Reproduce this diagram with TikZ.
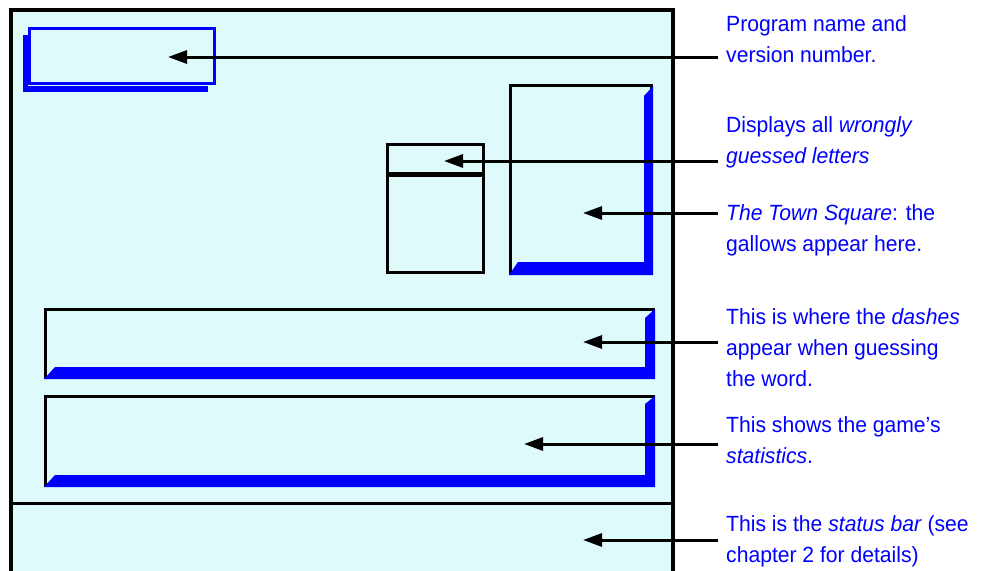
\documentclass[tikz,border=0pt]{standalone}
\usepackage{fontspec}
\newfontfamily\notefont{Liberation Sans}[FakeStretch=0.96]
\usepackage{tikz}
\usetikzlibrary{arrows.meta,positioning}

\definecolor{screen}{RGB}{222,250,250}
\definecolor{winblue}{RGB}{0,0,255}

\begin{document}
\begin{tikzpicture}[
    x=1pt, y=-1pt,
    frame/.style={draw, line width=3pt},
    bevel/.style={fill=winblue},
    note/.style={anchor=base west, align=left, inner xsep=8pt, inner ysep=0pt, text=winblue, font=\notefont\fontsize{22}{31}\selectfont},
    pointer/.style={-{Triangle[length=19pt, width=13pt]}, line width=3pt}
]
\useasboundingbox (0,0) rectangle (981,570);
\clip (0,0) rectangle (981,570);

% main window
\fill[screen] (11,10) rectangle (673,590);
\draw[frame, line width=3.5pt] (11,590) -- (11,10) -- (673,10) -- (673,590);
\draw[frame] (11,503) -- (673,503);

% title bar box
\fill[bevel] (23,35) rectangle (28,92);
\fill[bevel] (23,86) rectangle (208,92);
\draw[frame, winblue] (29.5,28.5) rectangle (214.5,83.5);

% wrong letters box
\draw[frame] (387.5,144.5) rectangle (483.5,272.5);
\draw[line width=5pt] (386,174) -- (485,174);

% town square
\draw[frame] (510.5,85.5) rectangle (651.5,273.5);
\fill[bevel] (653,86) -- (653,275) -- (509,275) -- (518,262) -- (644,262) -- (644,96) -- cycle;

% dashes panel
\draw[frame] (45.5,309.5) rectangle (653.5,377.5);
\fill[bevel] (655,309) -- (655,379) -- (44,379) -- (55,367) -- (645,367) -- (645,318) -- cycle;

% statistics panel
\draw[frame] (45.5,396.5) rectangle (653.5,485.5);
\fill[bevel] (655,396) -- (655,487) -- (44,487) -- (55,475) -- (645,475) -- (645,404) -- cycle;

% arrow targets
\coordinate (titletip) at (168,57);
\coordinate (wrongtip) at (444,161);
\coordinate (towntip) at (583,213);
\coordinate (dashtip) at (583,342);
\coordinate (stattip) at (524,444);
\coordinate (statustip) at (583,540);

% notes (placed by the baseline of their last line)
\node[note] (titletxt) at (718,62) {Program name and\\version number.};
\node[note] (wrongtxt) at (718,163) {Displays all \textit{wrongly}\\\textit{guessed letters}};
\node[note] (towntxt) at (718,251) {\textit{The Town Square}: the\\gallows appear here.};
\node[note] (dashtxt) at (718,386) {This is where the \textit{dashes}\\appear when guessing\\the word.};
\node[note] (stattxt) at (718,463) {This shows the game’s\\\textit{statistics}.};
\node[note] (statustxt) at (718,562) {This is the \textit{status bar} (see\\chapter 2 for details)};

\draw[pointer] (titletxt.west |- titletip) -- (titletip);
\draw[pointer] (wrongtxt.west |- wrongtip) -- (wrongtip);
\draw[pointer] (towntxt.west |- towntip) -- (towntip);
\draw[pointer] (dashtxt.west |- dashtip) -- (dashtip);
\draw[pointer] (stattxt.west |- stattip) -- (stattip);
\draw[pointer] (statustxt.west |- statustip) -- (statustip);
\end{tikzpicture}
\end{document}
